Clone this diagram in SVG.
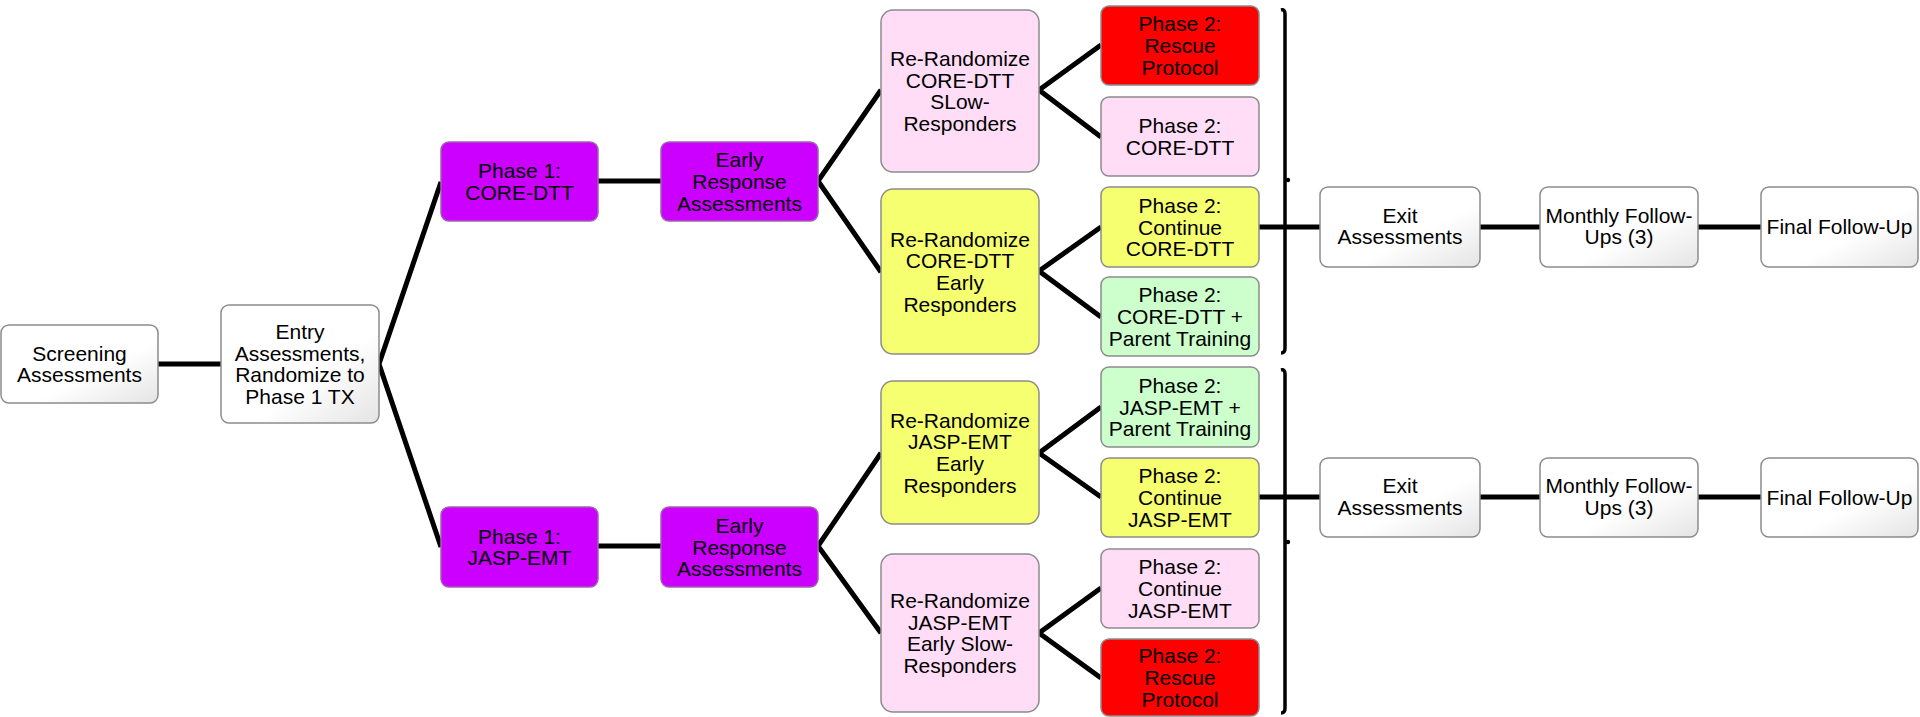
<svg xmlns="http://www.w3.org/2000/svg" width="1920" height="717" viewBox="0 0 1920 717">
<defs>
<linearGradient id="wg" x1="0" y1="0" x2="1" y2="1">
<stop offset="0" stop-color="#ffffff"/>
<stop offset="0.6" stop-color="#ffffff"/>
<stop offset="1" stop-color="#e4e4e4"/>
</linearGradient>
</defs>
<style>
.box{stroke:#8c8c8c;stroke-width:1.5}
.w{fill:url(#wg)}
.pu{fill:#cc00ff;stroke:#a060b0}
.pk{fill:#ffddf7}
.ye{fill:#f5ff70}
.gr{fill:#ccffcc}
.rd{fill:#ff0000}
text{font-family:"Liberation Sans",Arial,sans-serif;font-size:21px;text-anchor:middle;fill:#000}
.c{stroke:#000;stroke-width:5;fill:none;stroke-linejoin:miter}
.br{stroke:#000;stroke-width:3.5;fill:none}
</style>
<g id="connectors">
<path class="c" d="M158,364 H221"/>
<path class="c" d="M441,182 L379,364 L441,547"/>
<path class="c" d="M598,181 H661"/>
<path class="c" d="M598,546 H661"/>
<path class="c" d="M881,90 L818,181 L881,272"/>
<path class="c" d="M881,453 L818,546 L881,633"/>
<path class="c" d="M1101,45 L1039,90 L1101,137"/>
<path class="c" d="M1101,227 L1039,271 L1101,317"/>
<path class="c" d="M1101,407 L1039,453 L1101,497"/>
<path class="c" d="M1101,588 L1039,633 L1101,678"/>
<path class="c" d="M1259,227 H1320 M1480,227 H1540 M1698,227 H1761"/>
<path class="c" d="M1259,497 H1320 M1480,497 H1540 M1698,497 H1761"/>
<path class="br" d="M1281,10 Q1285,9 1285,14 L1285,348 Q1285,353 1281,353"/>
<circle cx="1288" cy="180" r="2.2"/>
<path class="br" d="M1281,370 Q1285,369 1285,374 L1285,708 Q1285,713 1281,713"/>
<circle cx="1288" cy="542" r="2.2"/>
</g>
<g id="screening"><rect class="box w" x="1" y="325" width="157" height="78" rx="8"/><text x="79.5" y="360.6">Screening</text><text x="79.5" y="382.3">Assessments</text></g>
<g id="entry"><rect class="box w" x="221" y="305" width="158" height="118" rx="8"/><text x="300" y="339">Entry</text><text x="300" y="360.6">Assessments,</text><text x="300" y="382.3">Randomize to</text><text x="300" y="404">Phase 1 TX</text></g>
<g id="phase1-core"><rect class="box pu" x="441" y="142" width="157" height="79" rx="8"/><text x="519.5" y="178.2">Phase 1:</text><text x="519.5" y="199.9">CORE-DTT</text></g>
<g id="early-core"><rect class="box pu" x="661" y="142" width="157" height="79" rx="8"/><text x="739.5" y="167.3">Early</text><text x="739.5" y="189">Response</text><text x="739.5" y="210.7">Assessments</text></g>
<g id="phase1-jasp"><rect class="box pu" x="441" y="507" width="157" height="80" rx="8"/><text x="519.5" y="543.7">Phase 1:</text><text x="519.5" y="565.4">JASP-EMT</text></g>
<g id="early-jasp"><rect class="box pu" x="661" y="507" width="157" height="80" rx="8"/><text x="739.5" y="532.8">Early</text><text x="739.5" y="554.5">Response</text><text x="739.5" y="576.2">Assessments</text></g>
<g id="rerand-core-slow"><rect class="box pk" x="881" y="10" width="158" height="162" rx="12"/><text x="960" y="66">Re-Randomize</text><text x="960" y="87.7">CORE-DTT</text><text x="960" y="109.4">SLow-</text><text x="960" y="131.1">Responders</text></g>
<g id="rerand-core-early"><rect class="box ye" x="881" y="189" width="158" height="165" rx="12"/><text x="960" y="246.5">Re-Randomize</text><text x="960" y="268.2">CORE-DTT</text><text x="960" y="289.9">Early</text><text x="960" y="311.6">Responders</text></g>
<g id="rerand-jasp-early"><rect class="box ye" x="881" y="381" width="158" height="143" rx="12"/><text x="960" y="427.5">Re-Randomize</text><text x="960" y="449.2">JASP-EMT</text><text x="960" y="470.9">Early</text><text x="960" y="492.6">Responders</text></g>
<g id="rerand-jasp-slow"><rect class="box pk" x="881" y="554" width="158" height="158" rx="12"/><text x="960" y="608">Re-Randomize</text><text x="960" y="629.7">JASP-EMT</text><text x="960" y="651.4">Early Slow-</text><text x="960" y="673.1">Responders</text></g>
<g id="p2-rescue-top"><rect class="box rd" x="1101" y="6" width="158" height="79" rx="8"/><text x="1180" y="31.3">Phase 2:</text><text x="1180" y="53">Rescue</text><text x="1180" y="74.7">Protocol</text></g>
<g id="p2-core"><rect class="box pk" x="1101" y="97" width="158" height="79" rx="8"/><text x="1180" y="133.2">Phase 2:</text><text x="1180" y="154.9">CORE-DTT</text></g>
<g id="p2-continue-core"><rect class="box ye" x="1101" y="187" width="158" height="80" rx="8"/><text x="1180" y="212.8">Phase 2:</text><text x="1180" y="234.5">Continue</text><text x="1180" y="256.2">CORE-DTT</text></g>
<g id="p2-core-pt"><rect class="box gr" x="1101" y="277" width="158" height="79" rx="8"/><text x="1180" y="302.3">Phase 2:</text><text x="1180" y="324">CORE-DTT +</text><text x="1180" y="345.7">Parent Training</text></g>
<g id="p2-jasp-pt"><rect class="box gr" x="1101" y="367" width="158" height="80" rx="8"/><text x="1180" y="392.8">Phase 2:</text><text x="1180" y="414.5">JASP-EMT +</text><text x="1180" y="436.2">Parent Training</text></g>
<g id="p2-continue-jasp"><rect class="box ye" x="1101" y="458" width="158" height="79" rx="8"/><text x="1180" y="483.3">Phase 2:</text><text x="1180" y="505">Continue</text><text x="1180" y="526.7">JASP-EMT</text></g>
<g id="p2-continue-jasp-slow"><rect class="box pk" x="1101" y="549" width="158" height="79" rx="8"/><text x="1180" y="574.3">Phase 2:</text><text x="1180" y="596">Continue</text><text x="1180" y="617.7">JASP-EMT</text></g>
<g id="p2-rescue-bottom"><rect class="box rd" x="1101" y="639" width="158" height="77" rx="8"/><text x="1180" y="663.3">Phase 2:</text><text x="1180" y="685">Rescue</text><text x="1180" y="706.7">Protocol</text></g>
<g id="exit-top"><rect class="box w" x="1320" y="187" width="160" height="80" rx="8"/><text x="1400" y="222.5">Exit</text><text x="1400" y="244.2">Assessments</text></g>
<g id="monthly-top"><rect class="box w" x="1540" y="187" width="158" height="80" rx="8"/><text x="1619" y="222.5">Monthly Follow-</text><text x="1619" y="244.2">Ups (3)</text></g>
<g id="final-top"><rect class="box w" x="1761" y="187" width="157" height="80" rx="8"/><text x="1839.5" y="234">Final Follow-Up</text></g>
<g id="exit-bottom"><rect class="box w" x="1320" y="458" width="160" height="79" rx="8"/><text x="1400" y="493">Exit</text><text x="1400" y="514.7">Assessments</text></g>
<g id="monthly-bottom"><rect class="box w" x="1540" y="458" width="158" height="79" rx="8"/><text x="1619" y="493">Monthly Follow-</text><text x="1619" y="514.7">Ups (3)</text></g>
<g id="final-bottom"><rect class="box w" x="1761" y="458" width="157" height="79" rx="8"/><text x="1839.5" y="504.5">Final Follow-Up</text></g>
</svg>
